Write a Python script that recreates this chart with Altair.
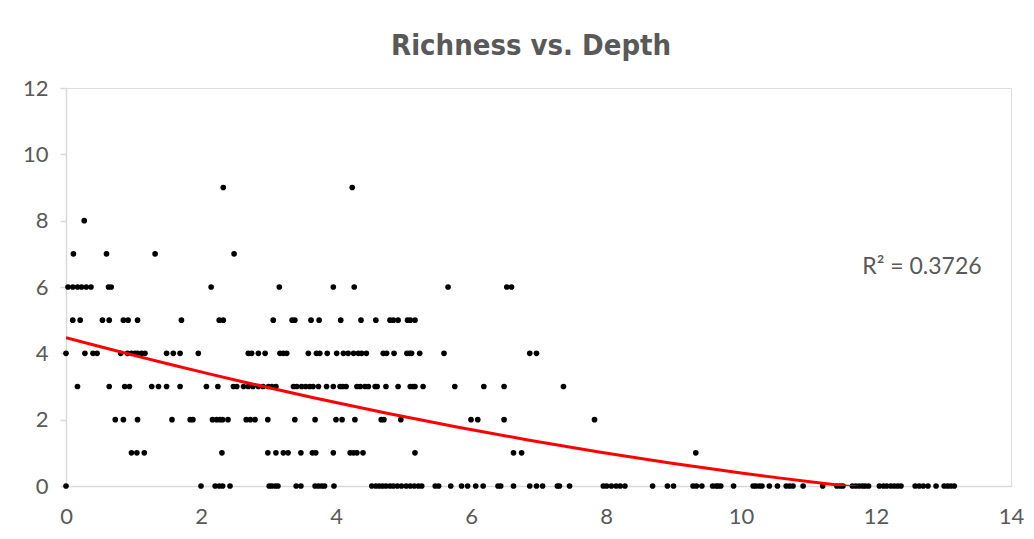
import altair as alt
import pandas as pd

# x (depth) values for each richness level
depth_r9 = [2.33, 4.24]
depth_r8 = [0.27]
depth_r7 = [0.11, 0.60, 1.32, 2.49]
depth_r6 = [0.03, 0.10, 0.17, 0.23, 0.30, 0.37, 0.63, 0.67, 2.15, 3.16, 3.96, 4.27,
            5.66, 6.53, 6.60]
depth_r5 = [0.10, 0.21, 0.54, 0.64, 0.85, 0.92, 1.06, 1.71, 2.27, 2.33, 3.07, 3.35,
            3.39, 3.63, 3.75, 4.07, 4.37, 4.59, 4.80, 4.85, 4.92, 5.06, 5.10, 5.17]
depth_r4 = [0.00, 0.28, 0.40, 0.46, 0.81, 0.91, 0.97, 1.02, 1.06, 1.12, 1.17, 1.49,
            1.59, 1.69, 1.96, 2.70, 2.75, 2.85, 2.95, 3.17, 3.22, 3.27, 3.59, 3.71,
            3.76, 3.87, 4.01, 4.11, 4.18, 4.26, 4.33, 4.38, 4.45, 4.70, 4.75, 4.86,
            5.05, 5.09, 5.12, 5.24, 5.60, 6.87, 6.97]
depth_r3 = [0.17, 0.64, 0.87, 0.94, 1.27, 1.37, 1.49, 1.69, 2.08, 2.25, 2.48, 2.53,
            2.63, 2.70, 2.77, 2.85, 2.92, 3.00, 3.05, 3.11, 3.37, 3.42, 3.49, 3.55,
            3.61, 3.66, 3.74, 3.86, 3.96, 4.06, 4.10, 4.15, 4.31, 4.36, 4.43, 4.48,
            4.58, 4.61, 4.74, 4.92, 5.10, 5.14, 5.17, 5.29, 5.76, 6.19, 6.49, 7.37]
depth_r2 = [0.73, 0.85, 1.06, 1.57, 1.84, 1.88, 2.17, 2.23, 2.28, 2.32, 2.40, 2.67,
            2.73, 2.80, 2.99, 3.39, 3.69, 4.00, 4.09, 4.28, 4.67, 4.71, 4.96, 6.00,
            6.10, 6.49, 7.83]
depth_r1 = [0.97, 1.05, 1.16, 2.31, 2.99, 3.11, 3.22, 3.29, 3.48, 3.65, 3.70, 3.96,
            4.21, 4.26, 4.31, 4.40, 5.17, 6.63, 6.75, 9.33]
depth_r0 = [0.00, 2.00, 2.21, 2.27, 2.32, 2.43, 3.01, 3.05, 3.10, 3.14, 3.41, 3.48,
            3.69, 3.74, 3.79, 3.83, 3.97, 4.53, 4.59, 4.64, 4.69, 4.74, 4.80, 4.85,
            4.91, 4.97, 5.04, 5.10, 5.16, 5.22, 5.27, 5.47, 5.52, 5.70, 5.86, 5.95,
            6.07, 6.18, 6.40, 6.44, 6.63, 6.87, 6.97, 7.06, 7.28, 7.31, 7.46, 7.96,
            8.01, 8.08, 8.15, 8.21, 8.28, 8.69, 8.91, 9.00, 9.29, 9.34, 9.42, 9.58,
            9.63, 9.66, 9.70, 9.89, 10.18, 10.22, 10.27, 10.31, 10.42, 10.54, 10.67,
            10.72, 10.77, 10.92, 11.21, 11.42, 11.47, 11.51, 11.65, 11.70, 11.75,
            11.80, 11.84, 11.89, 12.05, 12.11, 12.16, 12.22, 12.27, 12.32, 12.37,
            12.58, 12.64, 12.70, 12.77, 12.89, 13.01, 13.06, 13.11, 13.16]

richness_levels = [9, 8, 7, 6, 5, 4, 3, 2, 1, 0]
depth_lists = [depth_r9, depth_r8, depth_r7, depth_r6, depth_r5, depth_r4,
               depth_r3, depth_r2, depth_r1, depth_r0]

annotation_text = ["R² = 0.3726"]
annotation_x = [12.68]
annotation_y = [6.6]

x_ticks = [0, 2, 4, 6, 8, 10, 12, 14]
y_ticks = [i * 0.5 for i in range(25)]

rows = []
for r, xs in zip(richness_levels, depth_lists):
    for d in xs:
        rows.append({"Depth": d, "Richness": r})
df = pd.DataFrame(rows)
ann = pd.DataFrame({"text": annotation_text, "x": annotation_x, "y": annotation_y})

grey = "#595959"
label_font = "Lato"

x_enc = alt.X("Depth:Q", scale=alt.Scale(domain=[0, 14], nice=False),
              axis=alt.Axis(values=x_ticks, title=None, grid=False, ticks=False,
                            format="d", labelFlush=False,
                            domainColor="#d9d9d9", domainWidth=1.5,
                            labelFontSize=22, labelColor=grey, labelFont=label_font,
                            labelPadding=20))
y_enc = alt.Y("Richness:Q", scale=alt.Scale(domain=[0, 12], nice=False),
              axis=alt.Axis(values=y_ticks, title=None, grid=False,
                            labelExpr="datum.value % 2 == 0 ? format(datum.value, 'd') : ''",
                            labelFlush=False,
                            tickColor="#d9d9d9", tickSize=6, tickWidth=1.5,
                            domainColor="#d9d9d9", domainWidth=1.5,
                            labelFontSize=22, labelColor=grey, labelFont=label_font,
                            labelPadding=12))

points = alt.Chart(df).mark_circle(size=32, color="black", opacity=1).encode(
    x=x_enc, y=y_enc)

trend = alt.Chart(df).transform_regression(
    "Depth", "Richness", method="poly", order=2
).mark_line(color="#ff0000", strokeWidth=3, clip=True).encode(
    x="Depth:Q", y="Richness:Q")

label = alt.Chart(ann).mark_text(fontSize=23, color=grey, font=label_font,
                                 align="center", baseline="middle").encode(
    x="x:Q", y="y:Q", text="text:N")

chart = alt.layer(points, trend, label).properties(
    width=945, height=398,
    title=alt.TitleParams("Richness vs. Depth", fontSize=29, fontWeight="bold",
                          color=grey, font="Liberation Sans Narrow, DejaVu Sans Condensed, Roboto",
                          anchor="middle", frame="bounds", offset=16, dx=8),
    autosize=alt.AutoSizeParams(type="none"),
    padding={"left": 58, "top": 80, "right": 15, "bottom": 45},
).configure_view(stroke=None).configure(background="white")

chart.save("out.html", embed_options={"renderer": "svg", "actions": False})
